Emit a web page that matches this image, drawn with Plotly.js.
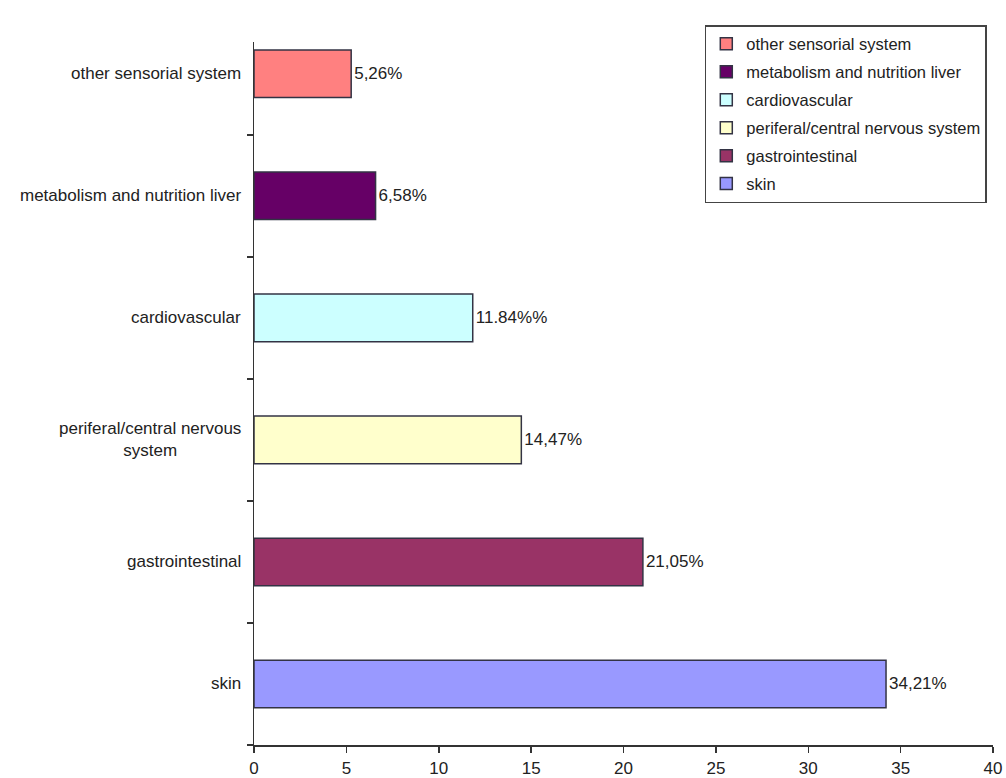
<!DOCTYPE html>
<html>
<head>
<meta charset="utf-8">
<script src="https://cdn.plot.ly/plotly-3.0.1.min.js"></script>
<style>html,body{margin:0;padding:0;background:#fff;}#chart{width:1006px;height:778px;}</style>
</head>
<body>
<div id="chart"></div>
<script>
// Categories, top to bottom as in legend
const categories = ["other sensorial system", "metabolism and nutrition liver", "cardiovascular", "periferal/central nervous system", "gastrointestinal", "skin"];
const tickLabels = ["other sensorial system", "metabolism and nutrition liver", "cardiovascular", "periferal/central nervous<br>system", "gastrointestinal", "skin"];
const values = [5.26, 6.58, 11.84, 14.47, 21.05, 34.21];
const valueLabels = ["5,26%", "6,58%", "11.84%%", "14,47%", "21,05%", "34,21%"];
const colors = ["#FF8080", "#660066", "#CCFFFF", "#FFFFCC", "#993366", "#9999FF"];

const FONT = 'Liberation Sans, Arial, sans-serif';

const traces = categories.map((c, i) => ({
  type: 'bar',
  orientation: 'h',
  name: c,
  legendgroup: 'g' + i,
  y: [c],
  x: [values[i]],
  text: [valueLabels[i]],
  textposition: 'outside',
  cliponaxis: false,
  textfont: {family: FONT, size: 17, color: '#222'},
  marker: {color: colors[i], line: {color: '#333344', width: 1.5}},
  width: 0.39,
  hoverinfo: 'x+y'
}));

// y-axis category labels as annotations so multi-line text is centred
const labelAnnotations = categories.map((c, i) => ({
  xref: 'paper', yref: 'y',
  x: 0, y: c,
  xanchor: 'right', yanchor: 'middle',
  xshift: -11,
  align: 'center',
  showarrow: false,
  text: tickLabels[i],
  font: {family: FONT, size: 17, color: '#222'}
}));

const layout = {
  width: 1006, height: 778,
  margin: {l: 254, r: 13, t: 42, b: 33},
  paper_bgcolor: '#fff', plot_bgcolor: '#fff',
  barmode: 'overlay',
  font: {family: FONT, size: 17, color: '#222'},
  xaxis: {
    range: [0, 40], dtick: 5, tick0: 0,
    showgrid: false, zeroline: false,
    showline: true, linecolor: '#333', linewidth: 1.5,
    ticks: 'outside', ticklen: 6, tickcolor: '#333', tickwidth: 1.5,
    ticklabelstandoff: 1,
    tickfont: {family: 'Liberation Sans Narrow, Arial Narrow, sans-serif', size: 17, color: '#222'}
  },
  yaxis: {
    type: 'category',
    categoryorder: 'array',
    categoryarray: categories.slice().reverse(),
    range: [-0.5, 5.26],
    showticklabels: false,
    showgrid: false, zeroline: false,
    showline: true, linecolor: '#333', linewidth: 1.5,
    ticks: 'outside', ticklen: 6, tickcolor: '#333', tickwidth: 1.5,
    tickson: 'boundaries'
  },
  annotations: labelAnnotations,
  showlegend: true,
  legend: {
    x: 0.61, y: 1.024, xanchor: 'left', yanchor: 'top',
    bgcolor: '#fff', bordercolor: '#444', borderwidth: 1.5,
    traceorder: 'grouped',
    tracegroupgap: 3.5,
    font: {family: FONT, size: 16.5, color: '#222'},
    itemwidth: 30
  }
};

Plotly.newPlot('chart', traces, layout, {displayModeBar: false, staticPlot: true});
</script>
</body>
</html>
